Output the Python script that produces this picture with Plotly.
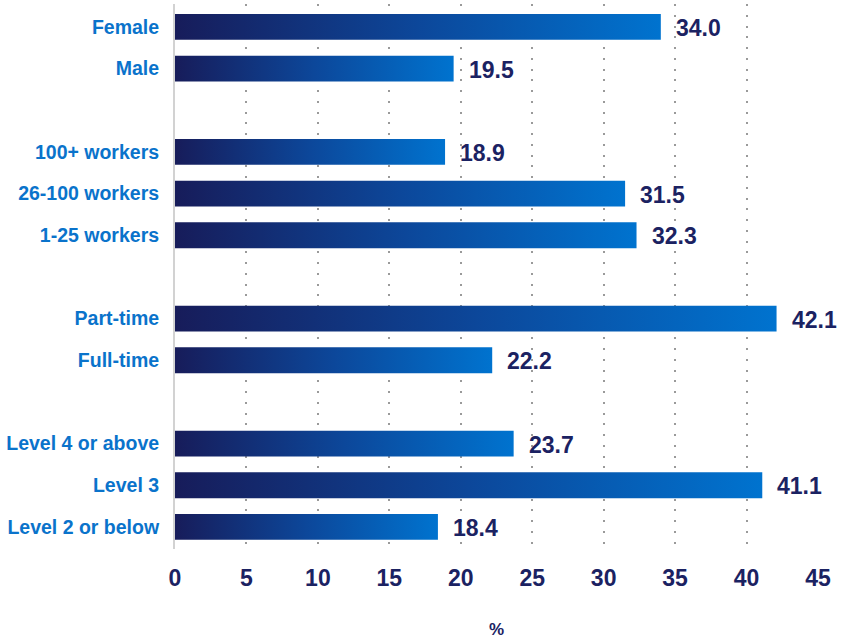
import plotly.graph_objects as go

# Share of workers (%) by characteristic, grouped top to bottom
sex_labels = ["Female", "Male"]
sex_values = [34.0, 19.5]

size_labels = ["100+ workers", "26-100 workers", "1-25 workers"]
size_values = [18.9, 31.5, 32.3]

hours_labels = ["Part-time", "Full-time"]
hours_values = [42.1, 22.2]

qual_labels = ["Level 4 or above", "Level 3", "Level 2 or below"]
qual_values = [23.7, 41.1, 18.4]

x_ticks = [0, 5, 10, 15, 20, 25, 30, 35, 40, 45]

groups = [
    (sex_labels, sex_values),
    (size_labels, size_values),
    (hours_labels, hours_values),
    (qual_labels, qual_values),
]

# Row positions: one blank row between groups
labels, values, rows = [], [], []
row = 0
for g_labels, g_values in groups:
    for lab, val in zip(g_labels, g_values):
        labels.append(lab)
        values.append(val)
        rows.append(row)
        row += 1
    row += 1

NAVY = "#1b2262"
BLUE = "#0a73cb"
FONT = "Liberation Sans"
HALF = 0.31  # half bar thickness in row units

fig = go.Figure()

# Bars drawn as filled rectangles with a left-to-right gradient
for lab, val, r in zip(labels, values, rows):
    fig.add_trace(go.Scatter(
        x=[0, val, val, 0, 0],
        y=[r - HALF, r - HALF, r + HALF, r + HALF, r - HALF],
        mode="lines",
        line=dict(width=0),
        fill="toself",
        fillgradient=dict(
            type="horizontal",
            colorscale=[[0, "#171c5a"], [0.5, "#0c479a"], [1, "#0073cf"]],
            start=0,
            stop=val,
        ),
        hoverinfo="skip",
        showlegend=False,
        name=lab,
    ))

# Value labels to the right of each bar
for val, r in zip(values, rows):
    fig.add_annotation(
        x=val, y=r, text=f"{val:.1f}",
        xanchor="left", yanchor="middle", xshift=13, yshift=-1,
        showarrow=False,
        font=dict(family=FONT, size=23, color=NAVY, weight="bold"),
    )

# Axis unit label
fig.add_annotation(
    x=0.5, y=0, xref="paper", yref="paper", text="%",
    xanchor="center", yanchor="top", yshift=-69,
    showarrow=False,
    font=dict(family=FONT, size=17, color=NAVY, weight="bold"),
)

fig.update_layout(
    width=841, height=637,
    margin=dict(l=175, r=23, t=4, b=88),
    paper_bgcolor="white",
    plot_bgcolor="white",
    showlegend=False,
    xaxis=dict(
        range=[0, 45],
        tickvals=x_ticks,
        ticktext=[str(t) for t in x_ticks],
        showgrid=True,
        gridcolor="#9a9a9a",
        gridwidth=2,
        griddash="2px,8.75px",
        zeroline=False,
        showline=False,
        ticks="",
        ticklabelstandoff=13,
        tickfont=dict(family=FONT, size=23, color=NAVY, weight="bold"),
        automargin=False,
        fixedrange=True,
    ),
    yaxis=dict(
        range=[12.53, -0.55],
        tickvals=rows,
        ticktext=labels,
        showgrid=False,
        zeroline=False,
        showline=True,
        linecolor="#d2d2d2",
        linewidth=2,
        ticks="",
        ticklabelstandoff=10,
        tickfont=dict(family=FONT, size=19.5, color=BLUE, weight="bold"),
        automargin=False,
        fixedrange=True,
    ),
)

fig.write_html("out.html")
